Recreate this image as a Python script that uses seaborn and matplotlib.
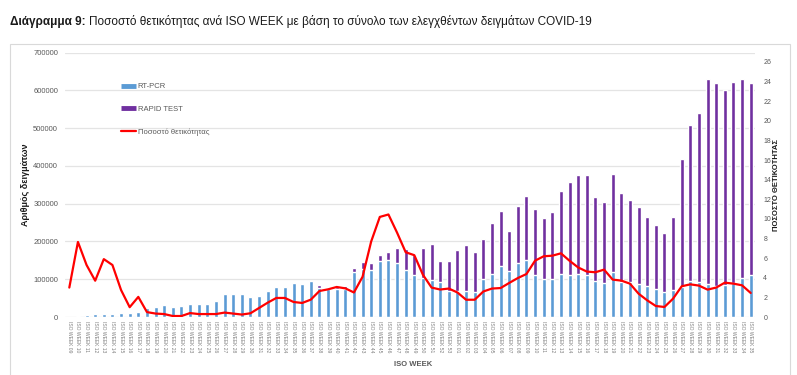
#!/usr/bin/env python3
# -*- coding: utf-8 -*-
"""
Positivity rate per ISO week (COVID-19 samples), RT-PCR vs rapid tests
"""
import numpy as np
import pandas as pd
import seaborn as sns
import matplotlib.pyplot as plt
from matplotlib.lines import Line2D
from matplotlib.patches import Rectangle

#%% data
weeks_2020 = list(range(9, 54))
weeks_2021 = list(range(1, 36))
week_labels = ["ISO WEEK %02d" % w for w in weeks_2020] + ["ISO WEEK %02d" % w for w in weeks_2021]

rt_pcr = [500, 1500, 4500, 8000, 8000, 8000, 9600, 9600, 13000, 24500,
          26000, 31500, 25500, 29000, 34000, 34000, 34000, 42000, 60000, 60000,
          60500, 52000, 54600, 67800, 78300, 79000, 88800, 86200, 95800, 77300,
          73000, 74000, 75000, 118700, 126000, 124000, 147800, 150400, 141700, 124000,
          110000, 102900, 96800, 92300, 67800,
          67800, 67800, 66000, 101100, 114300, 134600, 122200, 144300, 150400, 110000,
          100300, 99400, 112700, 111600, 113500, 110000, 94200, 88800, 119500, 91500,
          91500, 87100, 81800, 73900, 66800, 71200, 80000, 94200, 91500, 87900,
          82600, 86000, 88800, 102100, 111600]

rapid_test = [0, 0, 0, 0, 0, 0, 0, 0, 0, 0,
              0, 0, 0, 0, 0, 0, 0, 0, 0, 0,
              0, 0, 0, 0, 0, 0, 0, 0, 0, 6300,
              3000, 6000, 6500, 9800, 20000, 19000, 15800, 21100, 42200, 57200,
              55400, 80000, 97600, 54700, 79200,
              110800, 124000, 107300, 106500, 135500, 145900, 106500, 148600, 170700, 176800,
              161700, 177600, 219800, 247200, 263800, 267300, 222400, 215500, 260500, 235700,
              217200, 203100, 182800, 168800, 154800, 192700, 338700, 415000, 447500, 543500,
              538200, 516200, 533900, 529300, 507700]

positivity = [3.0, 7.65, 5.3, 3.7, 5.9, 5.3, 2.75, 1.0, 2.05, 0.5,
              0.35, 0.3, 0.1, 0.1, 0.4, 0.3, 0.3, 0.3, 0.45, 0.35,
              0.25, 0.38, 0.92, 1.46, 1.94, 1.94, 1.53, 1.43, 1.77, 2.65,
              2.82, 3.06, 2.92, 2.5, 4.1, 7.7, 10.2, 10.45, 8.6, 6.6,
              6.3, 4.3, 3.0, 2.8, 2.9,
              2.5, 1.76, 1.76, 2.6, 2.9, 2.95, 3.47, 3.97, 4.38, 5.74,
              6.19, 6.25, 6.49, 5.73, 5.05, 4.63, 4.56, 4.83, 3.81, 3.71,
              3.4, 2.38, 1.7, 1.12, 1.02, 1.87, 3.13, 3.33, 3.2, 2.79,
              3.0, 3.5, 3.4, 3.23, 2.45]

df = pd.DataFrame({"idx": np.arange(len(week_labels)),
                   "rt": rt_pcr,
                   "rapid": rapid_test,
                   "pos": positivity})
df["total"] = df["rt"] + df["rapid"]

BLUE = "#5B9BD5"
PURPLE = "#7030A0"
RED = "#FF0000"
GREY = "#595959"

#%% figure
sns.set_style("white")
plt.rcParams['font.family'] = ['Liberation Sans', 'DejaVu Sans']

W, H = 797, 375
fig = plt.figure(figsize=(W / 100, H / 100), dpi=100)
ax = fig.add_axes([65 / W, 1 - 317 / H, 690 / W, (317 - 52.7) / H])

# stacked bars: total (purple) behind, RT-PCR (blue) on top
sns.barplot(data=df, x="idx", y="total", color=PURPLE, saturation=1, width=0.46,
            errorbar=None, ax=ax)
sns.barplot(data=df, x="idx", y="rt", color=BLUE, saturation=1, width=0.46,
            errorbar=None, ax=ax)

ax.set_xlim(-0.5, len(week_labels) - 0.5)
ax.set_ylim(0, 700000)
yt = list(range(0, 700001, 100000))
ax.set_yticks(yt)
ax.set_yticklabels([str(v) for v in yt], fontsize=5.5, color=GREY)
ax.set_xticks(df["idx"])
ax.set_xticklabels(week_labels, rotation=-90, fontsize=3.6, color="#7F7F7F")
ax.tick_params(axis="both", length=0)
ax.tick_params(axis="y", pad=5)
ax.tick_params(axis="x", pad=3)
ax.set_xlabel("")
ax.set_ylabel("")
ax.yaxis.grid(True, color="#E4E4E4", lw=0.9)
ax.set_axisbelow(True)
for s in ax.spines.values():
    s.set_visible(False)

#%% positivity line on secondary axis
ax2 = ax.twinx()
sns.lineplot(data=df, x="idx", y="pos", color=RED, linewidth=1.6, ax=ax2)
ax2.set_ylim(0, 26.94)
ax2.set_yticks(range(0, 27, 2))
ax2.set_yticklabels([str(v) for v in range(0, 27, 2)], fontsize=5, color=GREY)
ax2.tick_params(axis="y", length=0, pad=6)
ax2.set_xlabel("")
ax2.set_ylabel("")
ax2.grid(False)
for s in ax2.spines.values():
    s.set_visible(False)
ax.set_xlim(-0.5, len(week_labels) - 0.5)

#%% labels and legend
fig.text(26 / W, 1 - 185 / H, "Αριθμός δειγμάτων", rotation=90, ha="center", va="center",
         fontsize=6.5, fontweight="bold", color="#1a1a1a")
fig.text(777 / W, 1 - 185 / H, "ΠΟΣΟΣΤΟ ΘΕΤΙΚΟΤΗΤΑΣ", rotation=90, ha="center", va="center",
         fontsize=5.5, fontweight="bold", color="#1a1a1a")
fig.text(413 / W, 1 - 364 / H, "ISO WEEK", ha="center", va="center",
         fontsize=5.5, fontweight="bold", color=GREY)

handles = [Line2D([], [], color=BLUE, lw=3.5, solid_capstyle="butt"),
           Line2D([], [], color=PURPLE, lw=3.5, solid_capstyle="butt"),
           Line2D([], [], color=RED, lw=1.6)]
fig.legend(handles, ["RT-PCR", "RAPID TEST", "Ποσοστό θετικότητας"],
           loc="upper left", bbox_to_anchor=(121 / W, 1 - 83 / H),
           frameon=False, fontsize=5.5, labelcolor=GREY,
           handlelength=1.9, handletextpad=0.3, labelspacing=2.0,
           borderpad=0, borderaxespad=0)

# title: bold part + normal part
t1 = fig.text(10 / W, 1 - 22 / H, "Διάγραμμα 9:", fontsize=8.5, fontweight="bold",
              va="center", color="#1a1a1a")
renderer = fig.canvas.get_renderer()
bb = t1.get_window_extent(renderer)
fig.text((bb.x1 + 3) / W, 1 - 22 / H,
         "Ποσοστό θετικότητας ανά ISO WEEK με βάση το σύνολο των ελεγχθέντων δειγμάτων COVID-19",
         fontsize=8.5, va="center", color="#1a1a1a")

# light frame around the chart
fig.add_artist(Rectangle((10 / W, -0.1), 780 / W, (1 - 44 / H) + 0.1,
                         transform=fig.transFigure, fill=False,
                         edgecolor="#D9D9D9", lw=0.8))

fig.savefig("out.png", dpi=100)
